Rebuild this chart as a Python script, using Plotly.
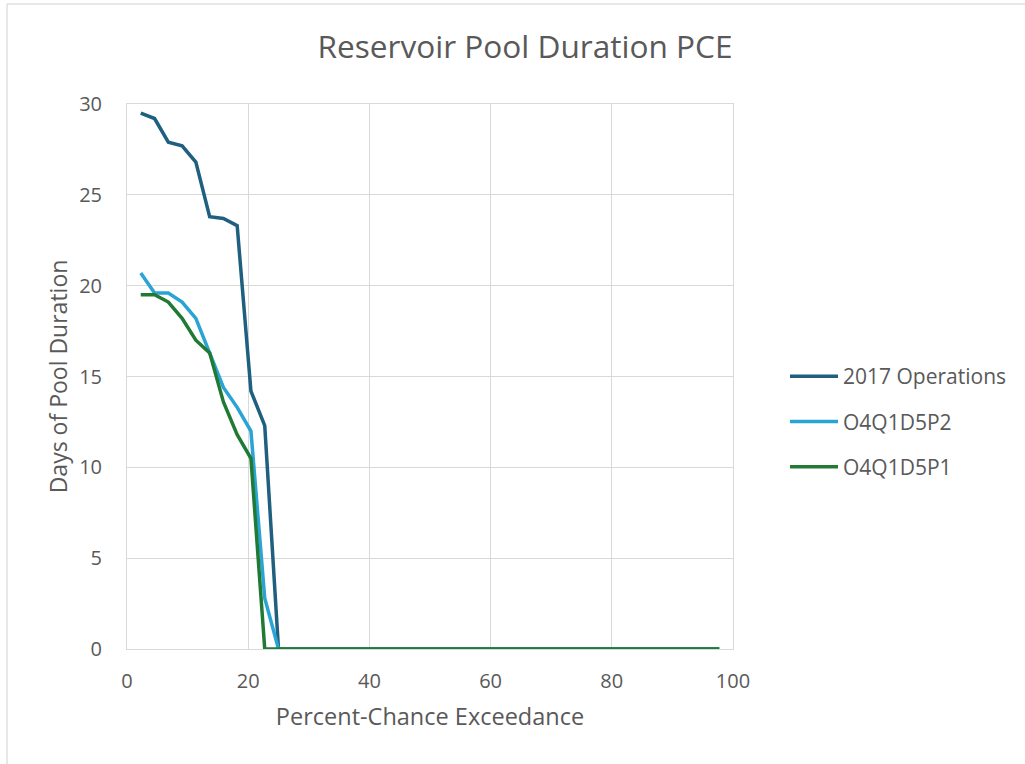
import plotly.graph_objects as go

# Percent-chance exceedance plotting positions (43 years)
pce = [2.27, 4.55, 6.82, 9.09, 11.36, 13.64, 15.91, 18.18, 20.45, 22.73,
       25.00, 27.27, 29.55, 31.82, 34.09, 36.36, 38.64, 40.91, 43.18, 45.45,
       47.73, 50.00, 52.27, 54.55, 56.82, 59.09, 61.36, 63.64, 65.91, 68.18,
       70.45, 72.73, 75.00, 77.27, 79.55, 81.82, 84.09, 86.36, 88.64, 90.91,
       93.18, 95.45, 97.73]

# Days of pool duration for each alternative
ops_2017 = [29.5, 29.2, 27.9, 27.7, 26.8, 23.8, 23.7, 23.3, 14.2, 12.3,
            0, 0, 0, 0, 0, 0, 0, 0, 0, 0,
            0, 0, 0, 0, 0, 0, 0, 0, 0, 0,
            0, 0, 0, 0, 0, 0, 0, 0, 0, 0,
            0, 0, 0]
o4q1d5p2 = [20.7, 19.6, 19.6, 19.1, 18.2, 16.3, 14.4, 13.3, 12.0, 2.8,
            0, 0, 0, 0, 0, 0, 0, 0, 0, 0,
            0, 0, 0, 0, 0, 0, 0, 0, 0, 0,
            0, 0, 0, 0, 0, 0, 0, 0, 0, 0,
            0, 0, 0]
o4q1d5p1 = [19.5, 19.5, 19.1, 18.2, 17.0, 16.3, 13.6, 11.8, 10.5, 0,
            0, 0, 0, 0, 0, 0, 0, 0, 0, 0,
            0, 0, 0, 0, 0, 0, 0, 0, 0, 0,
            0, 0, 0, 0, 0, 0, 0, 0, 0, 0,
            0, 0, 0]

series = [
    ("2017 Operations", ops_2017, "#1f5f7f"),
    ("O4Q1D5P2", o4q1d5p2, "#2aa4d5"),
    ("O4Q1D5P1", o4q1d5p1, "#217a34"),
]

TEXT = "#595959"
GRID = "#d9d9d9"
FONT = "Open Sans, sans-serif"

fig = go.Figure()
for i, (name, vals, color) in enumerate(series):
    fig.add_trace(go.Scatter(
        x=pce, y=vals, name=name, mode="lines",
        line=dict(color=color, width=3.5),
        legendgroup=f"g{i}",
    ))

W, H = 1025, 764
L, R, T, B = 127, 292, 104, 115
pw, ph = W - L - R, H - T - B

fig.update_layout(
    width=W, height=H,
    margin=dict(l=L, r=R, t=T, b=B, autoexpand=False),
    paper_bgcolor="white", plot_bgcolor="white",
    title=dict(text="Reservoir Pool Duration PCE",
               font=dict(family=FONT, size=31.6, color=TEXT),
               x=525 / W, xref="container", xanchor="center",
               y=1 - 47 / H, yref="container", yanchor="middle"),
    showlegend=True,
    legend=dict(
        x=(785 - L) / pw, xanchor="left",
        y=(H - B - 376 + 20) / ph, yanchor="top",
        font=dict(family=FONT, size=21, color=TEXT),
        itemwidth=48, tracegroupgap=15,
        bgcolor="rgba(0,0,0,0)",
    ),
    xaxis=dict(
        range=[0, 100], tickvals=[0, 20, 40, 60, 80, 100],
        showgrid=True, gridcolor=GRID, gridwidth=1,
        showline=True, linecolor=GRID, linewidth=1, mirror=True,
        zeroline=False, ticks="", ticklabelstandoff=14,
        tickfont=dict(family=FONT, size=20, color=TEXT),
        title=dict(text="Percent-Chance Exceedance", standoff=15,
                   font=dict(family=FONT, size=23.5, color=TEXT)),
    ),
    yaxis=dict(
        range=[0, 30], tickvals=[0, 5, 10, 15, 20, 25, 30],
        showgrid=True, gridcolor=GRID, gridwidth=1,
        showline=True, linecolor=GRID, linewidth=1, mirror=True,
        zeroline=False, ticks="", ticklabelstandoff=20,
        tickfont=dict(family=FONT, size=20, color=TEXT),
        title=dict(text="Days of Pool Duration", standoff=5,
                   font=dict(family=FONT, size=23, color=TEXT)),
    ),
)

# Chart-area frame along the top and left edges
fig.add_shape(type="line", xref="paper", yref="paper",
              x0=(7 - L) / pw, x1=(W - L) / pw,
              y0=(H - B - 4) / ph, y1=(H - B - 4) / ph,
              line=dict(color="#d0d0d0", width=1))
fig.add_shape(type="line", xref="paper", yref="paper",
              x0=(7 - L) / pw, x1=(7 - L) / pw,
              y0=(H - B - 4) / ph, y1=(H - B - H) / ph,
              line=dict(color="#d0d0d0", width=1))

fig.write_html("out.html")
